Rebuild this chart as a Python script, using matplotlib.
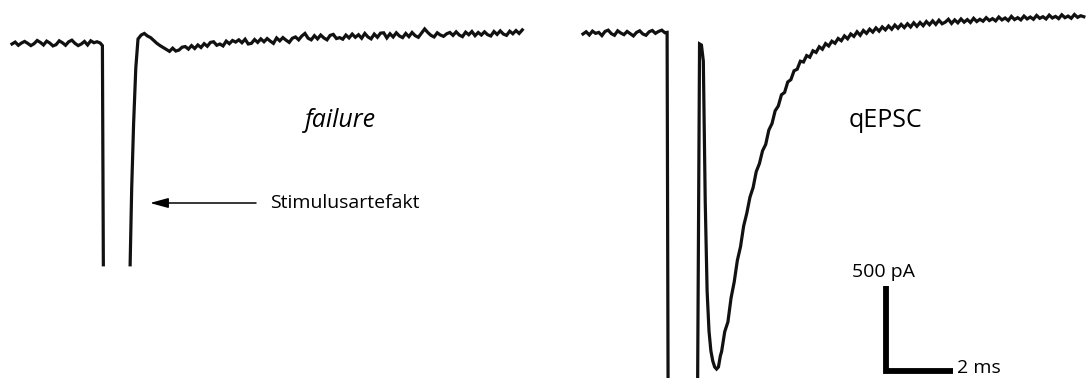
import numpy as np
import matplotlib
matplotlib.use("Agg")
import matplotlib.pyplot as plt

plt.rcParams['font.family'] = ['Open Sans', 'DejaVu Sans']

# ---- trace data: time in ms, current in pA (relative to baseline) ----
# failure trace
fail_pre_t = np.round(np.arange(0, 2.85, 0.1), 2)
fail_pre_i = [0, 12, -8, 6, 16, 4, -10, 2, 22, 10, -6, 18, 6, -12, -4, 20, 8, -8,
              14, 24, 4, -10, 0, 16, -6, 20, 8, 14, 6]
fail_art_t = [2.87, 2.9]
fail_art_i = [-10, -1380]
fail_rise_t = [3.75, 3.80, 3.86, 3.93]
fail_rise_i = [-1380, -900, -500, -150]
fail_post_t = np.round(np.arange(4.0, 16.25, 0.1), 2)
fail_post_i = [31, 56, 66, 50, 40, 22, 4, -10, -22, -34,
               -46, -26, -44, -38, -20, -16, -32, -10, -28, -6,
               -22, 2, -14, 10, 14, -8, 0, -12, 18, 2,
               22, 12, 26, 8, 30, 0, 4, 28, 10, 32,
               14, 34, 18, 4, 38, 20, 40, 24, 10, 36,
               44, 26, 50, 66, 36, 26, 52, 32, 56, 38,
               26, 54, 60, 34, 40, 30, 56, 38, 62, 42,
               58, 36, 66, 44, 32, 62, 42, 68, 70, 38,
               64, 44, 70, 50, 40, 66, 46, 72, 52, 42,
               68, 94, 72, 54, 44, 70, 56, 48, 64, 72,
               54, 76, 56, 46, 74, 58, 78, 52, 72, 56,
               76, 58, 50, 78, 60, 82, 62, 54, 80, 64,
               84, 66, 88]

# qEPSC trace
epsc_pre_t = np.round(np.arange(0, 2.65, 0.1), 2)
epsc_pre_i = [0, 14, -6, 18, 4, 10, -10, 16, 24, 2, -8, 20, 6, -4, 16, 2, -12,
              10, 20, 0, -8, 14, 22, 4, 16, 24, 8]
epsc_art_t = [2.67, 2.70]
epsc_art_i = [10, -2140]
epsc_peak_t = [3.64, 3.70, 3.76, 3.82, 3.88, 3.94, 4.00, 4.06, 4.12, 4.18,
               4.24, 4.30, 4.36]
epsc_peak_i = [-2140, -62, -69, -169, -1044, -1606, -1856, -1981, -2044,
               -2081, -2094, -2081, -2012]
epsc_decay_t = np.round(np.arange(4.4, 15.95, 0.1), 2)
epsc_decay_i = [-1985, -1860, -1800, -1650, -1550, -1415,
                -1330, -1200, -1120, -1020, -960, -860, -810, -730, -690, -600,
                -560, -480, -450, -380, -365, -300, -285, -230, -220, -170,
                -175, -135, -145, -105, -115, -80, -95, -60, -75, -45,
                -58, -28, -42, -12, -30, 0, -15, 14, -8, 22,
                4, 30, 12, 38, 18, 44, 26, 50, 30, 56,
                36, 60, 40, 64, 44, 70, 48, 72, 52, 78,
                58, 82, 60, 86, 64, 74, 92, 66, 88, 70,
                94, 74, 90, 72, 98, 78, 92, 80, 102, 84,
                96, 82, 106, 88, 100, 84, 110, 90, 102, 88,
                112, 94, 106, 92, 116, 98, 108, 94, 118, 100,
                110, 96, 120, 102, 112, 98, 122, 104, 114, 108]

# scale bar
bar_ms = 2
bar_pA = 500

# ---- layout: 31.5 px per ms of trace, 6.25 pA per px ----
W, H = 1091, 379
PX_MS = 31.5
PX_PA = 6.25
BAR_PX_MS = 33.5   # scale bar drawn slightly wider in the figure
BAR_PX_PA = 0.17

fig = plt.figure(figsize=(W / 100, H / 100), dpi=100)
ax = fig.add_axes([0, 0, 1, 1])
ax.set_xlim(0, W)
ax.set_ylim(H, 0)
ax.axis('off')


def place(t, i, x0_px, y0_px):
    return np.asarray(t) * PX_MS + x0_px, y0_px - np.asarray(i) / PX_PA


col = '#111111'
lw = 2.3

# failure
x, y = place(list(fail_pre_t) + fail_art_t, fail_pre_i + fail_art_i, 12, 44)
ax.plot(x, y, color=col, lw=lw, solid_joinstyle='miter')
x, y = place(fail_rise_t + list(fail_post_t), fail_rise_i + fail_post_i, 12, 44)
ax.plot(x, y, color=col, lw=lw, solid_joinstyle='miter')

# qEPSC
x, y = place(list(epsc_pre_t) + epsc_art_t, epsc_pre_i + epsc_art_i, 583, 34)
ax.plot(x, y, color=col, lw=lw, solid_joinstyle='miter')
x, y = place(epsc_peak_t + list(epsc_decay_t), epsc_peak_i + epsc_decay_i, 583, 34)
ax.plot(x, y, color=col, lw=lw, solid_joinstyle='miter')

# scale bar, corner at (886, 370.5) px
cx, cy = 886, 370.5
ax.plot([cx, cx, cx + bar_ms * BAR_PX_MS], [cy - bar_pA * BAR_PX_PA, cy, cy],
        color='black', lw=4.2, solid_joinstyle='miter', solid_capstyle='butt')

ax.text(883, 277, f'{bar_pA} pA', ha='center', va='baseline', fontsize=14)
ax.text(957, 373, f'{bar_ms} ms', ha='left', va='baseline', fontsize=14)
ax.text(340, 127, 'failure', ha='center', va='baseline', fontsize=18,
        style='italic')
ax.text(885, 127, 'qEPSC', ha='center', va='baseline', fontsize=18)
ax.text(270, 208, 'Stimulusartefakt', ha='left', va='baseline', fontsize=14)

ax.annotate('', xy=(150, 203), xytext=(256, 203),
            arrowprops=dict(arrowstyle='-|>,head_length=1.1,head_width=0.3',
                            color='black', lw=1.1, shrinkA=0, shrinkB=0,
                            mutation_scale=10))

fig.savefig('out.png', dpi=100)
